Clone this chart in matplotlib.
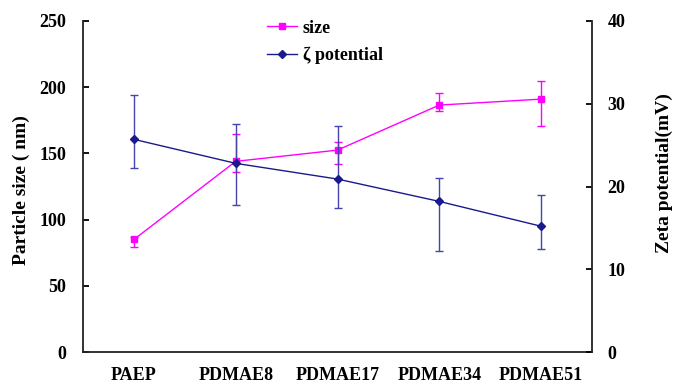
import matplotlib
matplotlib.use("Agg")
import matplotlib.pyplot as plt
from matplotlib.lines import Line2D
import numpy as np

categories = ["PAEP", "PDMAE8", "PDMAE17", "PDMAE34", "PDMAE51"]
size_nm = [85, 144, 152.5, 186.5, 191]
size_err_low = [6, 8, 10.5, 4.5, 20]
size_err_high = [2, 20.5, 6, 9.5, 14]
zeta_mv = [25.7, 22.8, 20.9, 18.2, 15.2]
zeta_err_low = [3.5, 5.0, 3.5, 6.0, 2.8]
zeta_err_high = [5.4, 4.8, 6.4, 2.8, 3.8]

plt.rcParams['font.family'] = ['Liberation Serif', 'DejaVu Serif']
plt.rcParams['font.weight'] = 'bold'

fig = plt.figure(figsize=(6.75, 3.86), dpi=100)
ax = fig.add_axes([0.123, 0.088, 0.754, 0.8576])
ax2 = ax.twinx()

x = np.arange(len(categories))
magenta = '#FF00FF'
navy = '#1a1a8c'
navy_err = '#4444aa'

ax.errorbar(x, size_nm, yerr=[size_err_low, size_err_high], color=magenta,
            marker='s', markersize=5, linewidth=1.0, elinewidth=1.0,
            capsize=3, capthick=1.0)
ax2.errorbar(x, zeta_mv, yerr=[zeta_err_low, zeta_err_high], color=navy,
             marker='D', markersize=4, linewidth=1.0, elinewidth=1.0,
             ecolor=navy_err, capsize=3, capthick=1.0)

ax.set_xlim(-0.5, len(categories) - 0.5)
ax.set_ylim(0, 250)
ax2.set_ylim(0, 40)
ax.set_yticks([0, 50, 100, 150, 200, 250])
ax2.set_yticks([0, 10, 20, 30, 40])
ax.set_xticks(x)
ax.set_xticklabels(categories)

for a in (ax, ax2):
    a.spines['top'].set_visible(False)
    for s in a.spines.values():
        s.set_linewidth(1.3)
        s.set_color('#222222')
ax.spines['right'].set_visible(False)
ax2.spines['left'].set_visible(False)
ax2.spines['bottom'].set_visible(False)

ax.tick_params(axis='x', length=0, pad=11, labelsize=13)
ax.tick_params(axis='y', direction='in', length=4, width=1.3, pad=12, labelsize=13)
ax2.tick_params(axis='y', direction='in', length=4, width=1.3, pad=11, labelsize=13)

ax.set_ylabel('Particle size ( nm)', fontsize=14, fontweight='bold')
ax.yaxis.set_label_coords(-0.104, 0.49)
ax2.set_ylabel('Zeta potential(mV)', fontsize=14, fontweight='bold', rotation=90)
ax2.yaxis.set_label_coords(1.125, 0.54)

h1 = Line2D([], [], color=magenta, marker='s', markersize=5, linewidth=1.0)
h2 = Line2D([], [], color=navy, marker='D', markersize=4, linewidth=1.0)
leg = ax.legend([h1, h2], ['size', 'ζ potential'], loc='upper left',
                bbox_to_anchor=(0.329, 1.053), frameon=False, fontsize=13,
                handlelength=1.65, handletextpad=0.35, labelspacing=0.55)
for t in leg.get_texts():
    t.set_fontweight('bold')

fig.savefig('out.png', dpi=100)
